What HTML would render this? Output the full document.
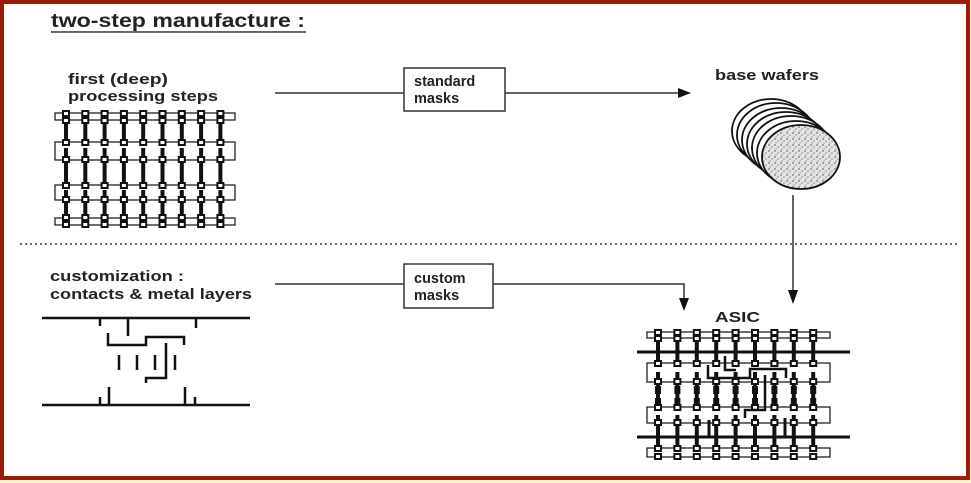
<!DOCTYPE html>
<html><head><meta charset="utf-8"><style>
html,body{margin:0;padding:0;background:#fbf3d0;}
svg{display:block}
text{font-family:"Liberation Sans",sans-serif;font-weight:bold;fill:#222}
</style></head><body>
<svg width="971" height="483" viewBox="0 0 971 483" xmlns="http://www.w3.org/2000/svg">
<defs>
<pattern id="stip" width="6" height="6" patternUnits="userSpaceOnUse">
<rect width="6" height="6" fill="#e4e4e4"/>
<circle cx="1" cy="1" r="0.9" fill="#777"/><circle cx="4" cy="3" r="0.8" fill="#888"/><circle cx="2" cy="5" r="0.7" fill="#999"/>
</pattern>
<g id="c1">
<rect x="-2" y="120" width="4" height="22" fill="#111"/>
<rect x="-2" y="148" width="4" height="40" fill="#111"/>
<rect x="-2" y="190" width="4" height="28" fill="#111"/>
<g fill="#fff" stroke="#111" stroke-width="2">
<rect x="-3" y="111" width="6" height="5"/><rect x="-3" y="118" width="6" height="5"/>
<rect x="-3" y="140" width="6" height="5"/><rect x="-3" y="157" width="6" height="5"/>
<rect x="-3" y="183" width="6" height="5"/><rect x="-3" y="197" width="6" height="5"/>
<rect x="-3" y="215" width="6" height="5"/><rect x="-3" y="222" width="6" height="5"/>
</g>
</g>
<g id="c2">
<rect x="-2" y="338" width="4" height="25" fill="#111"/>
<rect x="-2" y="372" width="4" height="35" fill="#111"/>
<rect x="-2" y="415" width="4" height="33" fill="#111"/>
<g fill="#fff" stroke="#111" stroke-width="2">
<rect x="-3" y="330" width="6" height="5"/><rect x="-3" y="336" width="6" height="5"/>
<rect x="-3" y="361" width="6" height="5"/><rect x="-3" y="379" width="6" height="5"/>
<rect x="-3" y="405" width="6" height="5"/><rect x="-3" y="420" width="6" height="5"/>
<rect x="-3" y="446" width="6" height="5"/><rect x="-3" y="454" width="6" height="5"/>
</g>
<rect x="-3" y="386" width="6" height="8" fill="#111"/>
<rect x="-3" y="398" width="6" height="6" fill="#111"/>
</g>
</defs>
<rect x="0" y="0" width="970" height="480" fill="#9b1a0a"/>
<rect x="4" y="4" width="962" height="472" fill="#fff"/>
<text x="51" y="27" font-size="19" textLength="254" lengthAdjust="spacingAndGlyphs">two-step manufacture :</text>
<line x1="51" y1="32" x2="306" y2="32" stroke="#333" stroke-width="1.5"/>
<text x="68" y="84" font-size="14.5" textLength="100" lengthAdjust="spacingAndGlyphs">first (deep)</text>
<text x="68" y="101" font-size="14.5" textLength="150" lengthAdjust="spacingAndGlyphs">processing steps</text>
<text x="50" y="281" font-size="14.5" textLength="134" lengthAdjust="spacingAndGlyphs">customization :</text>
<text x="50" y="299" font-size="14.5" textLength="202" lengthAdjust="spacingAndGlyphs">contacts &amp; metal layers</text>
<text x="715" y="80" font-size="14.5" textLength="104" lengthAdjust="spacingAndGlyphs">base wafers</text>
<text x="715" y="322" font-size="15" textLength="45" lengthAdjust="spacingAndGlyphs">ASIC</text>
<g stroke="#333" stroke-width="1.5" fill="none">
<line x1="275" y1="93" x2="404" y2="93"/>
<rect x="404" y="68" width="101" height="43" fill="#fff"/>
<line x1="505" y1="93" x2="678" y2="93"/>
<line x1="275" y1="284" x2="404" y2="284"/>
<rect x="404" y="264" width="89" height="44" fill="#fff"/>
<polyline points="493,284 684,284 684,300"/>
<line x1="793" y1="195" x2="793" y2="292"/>
</g>
<polygon points="678,88 691,93 678,98" fill="#111"/>
<polygon points="679,298 689,298 684,311" fill="#111"/>
<polygon points="788,290 798,290 793,304" fill="#111"/>
<text x="414" y="86" font-size="14.5">standard</text>
<text x="414" y="103" font-size="14.5">masks</text>
<text x="414" y="283" font-size="14.5">custom</text>
<text x="414" y="300" font-size="14.5">masks</text>
<line x1="20" y1="244" x2="960" y2="244" stroke="#333" stroke-width="1.5" stroke-dasharray="2,3"/>
<g stroke="#111" stroke-width="1.8" fill="#fff">
<ellipse cx="771" cy="131" rx="39" ry="32"/>
<ellipse cx="776" cy="135" rx="39" ry="32"/>
<ellipse cx="781" cy="140" rx="39" ry="32"/>
<ellipse cx="786" cy="144" rx="39" ry="32"/>
<ellipse cx="791" cy="148" rx="39" ry="32"/>
<ellipse cx="796" cy="153" rx="39" ry="32"/>
<ellipse cx="801" cy="157" rx="39" ry="32" fill="url(#stip)"/>
</g>
<!-- chip 1 -->
<g fill="#fff" stroke="#222" stroke-width="1.3">
<rect x="55" y="113" width="180" height="7"/>
<rect x="55" y="142" width="180" height="18"/>
<rect x="55" y="185" width="180" height="15"/>
<rect x="55" y="218" width="180" height="7"/>
</g>
<use href="#c1" x="66"/><use href="#c1" x="85.3"/><use href="#c1" x="104.6"/><use href="#c1" x="123.9"/><use href="#c1" x="143.2"/><use href="#c1" x="162.5"/><use href="#c1" x="181.8"/><use href="#c1" x="201.1"/><use href="#c1" x="220.4"/>
<!-- ASIC -->
<g fill="#fff" stroke="#222" stroke-width="1.3">
<rect x="647" y="332" width="183" height="6"/>
<rect x="647" y="363" width="183" height="19"/>
<rect x="647" y="407" width="183" height="16"/>
<rect x="647" y="448" width="183" height="9"/>
</g>
<use href="#c2" x="658"/><use href="#c2" x="677.4"/><use href="#c2" x="696.8"/><use href="#c2" x="716.2"/><use href="#c2" x="735.6"/><use href="#c2" x="755"/><use href="#c2" x="774.4"/><use href="#c2" x="793.8"/><use href="#c2" x="813.2"/>
<g stroke="#111" fill="none">
<line x1="637" y1="352" x2="850" y2="352" stroke-width="3"/>
<line x1="637" y1="437" x2="850" y2="437" stroke-width="3"/>
<polyline points="708,365 708,378 750,378 750,369 786,369 786,378" stroke-width="2.5"/>
<polyline points="725,356 725,370 736,370" stroke-width="2.5"/>
<polyline points="765,375 765,410 745,410 745,418" stroke-width="2.5"/>
<line x1="709" y1="420" x2="709" y2="437" stroke-width="3"/>
<line x1="785" y1="418" x2="785" y2="437" stroke-width="3"/>
</g>
<!-- customization -->
<g stroke="#111" stroke-width="2.5" fill="none">
<line x1="42" y1="318" x2="250" y2="318"/>
<line x1="42" y1="405" x2="250" y2="405"/>
<line x1="100" y1="318" x2="100" y2="326"/>
<line x1="128" y1="318" x2="128" y2="336"/>
<line x1="196" y1="318" x2="196" y2="328"/>
<polyline points="108,333 108,345 146,345 146,337 184,337 184,345"/>
<polyline points="166,343 166,378 146,378 146,383"/>
<line x1="119" y1="355" x2="119" y2="370"/>
<line x1="137" y1="355" x2="137" y2="370"/>
<line x1="155" y1="355" x2="155" y2="370"/>
<line x1="175" y1="355" x2="175" y2="370"/>
<line x1="100" y1="397" x2="100" y2="405"/>
<line x1="109" y1="387" x2="109" y2="405"/>
<line x1="185" y1="387" x2="185" y2="405"/>
<line x1="195" y1="397" x2="195" y2="405"/>
</g>
</svg>
</body></html>
